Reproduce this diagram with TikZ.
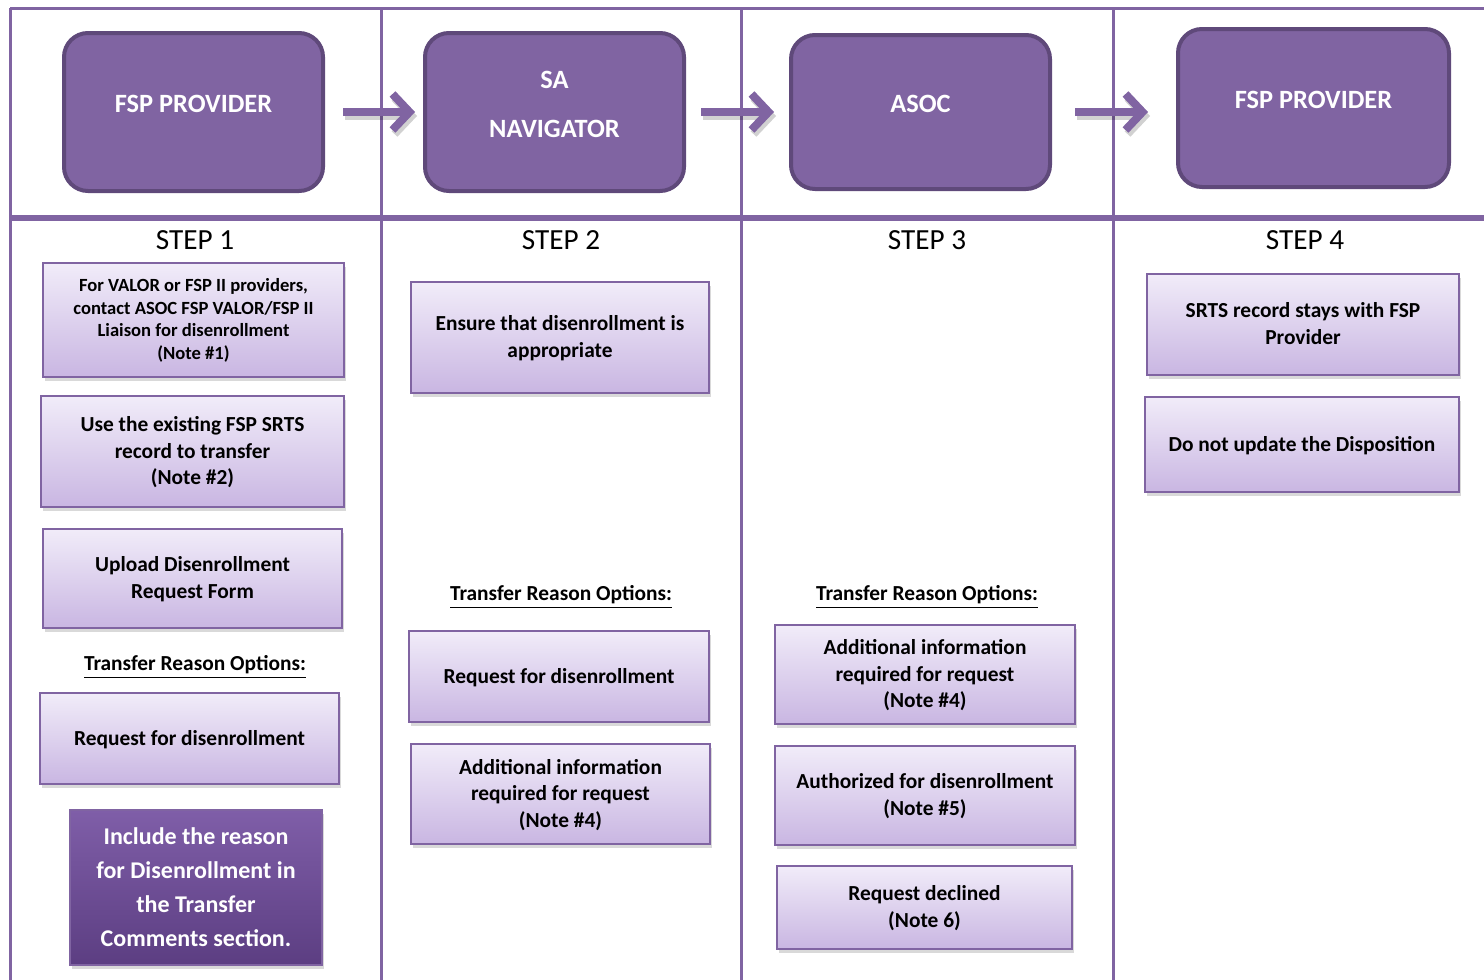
\documentclass[tikz,border=0pt]{standalone}
\usepackage{fontspec}
\setmainfont{Carlito}
\usetikzlibrary{arrows.meta,shadows}

\definecolor{lavender}{HTML}{8064A2}
\definecolor{plumedge}{HTML}{5F497A}
\definecolor{lilactop}{HTML}{F1ECF9}
\definecolor{lilacbot}{HTML}{C9B6E2}
\definecolor{grapetop}{HTML}{7F5EA8}
\definecolor{grapebot}{HTML}{5C3E82}

\tikzset{
  gridline/.style={draw=lavender, line width=1.5pt},
  hdrbox/.style={rounded corners=12pt, draw=plumedge, line width=2pt, fill=lavender,
    text=white, align=center, text depth=8pt,
    font=\bfseries\fontsize{13.2}{24.5}\selectfont},
  optbox/.style={draw=lavender, line width=0.8pt, top color=lilactop, bottom color=lilacbot,
    align=center, inner sep=0pt, text depth=1pt, font=\bfseries\fontsize{10.7}{13.25}\selectfont,
    drop shadow={shadow xshift=1.2pt, shadow yshift=-2pt, opacity=0.3}},
  darkbox/.style={draw=lavender, line width=0.8pt, top color=grapetop, bottom color=grapebot,
    text=white, align=center, inner sep=0pt, font=\bfseries\fontsize{12}{17}\selectfont,
    drop shadow={shadow xshift=1.2pt, shadow yshift=-2pt, opacity=0.3}},
  steplbl/.style={font=\fontsize{14.6}{16}\selectfont},
  optlbl/.style={font=\bfseries\fontsize{10.7}{12}\selectfont},
  flowarrow/.style={draw=lavender, line width=4pt,
    -{Straight Barb[length=8.5pt,width=18pt]}},
  arrowshade/.style={flowarrow, draw=black, opacity=0.18, transform canvas={xshift=1pt,yshift=-2pt}}
}

\begin{document}
\begin{tikzpicture}[x=0.5pt,y=-0.5pt]
  \useasboundingbox (0,0) rectangle (1484,980);

  % table lines
  \draw [gridline] (10,8) -- (1484,8);
  \draw [gridline] (10,8) -- (10,980);
  \draw [gridline] (381,8) -- (381,980);
  \draw [gridline] (741,8) -- (741,980);
  \draw [gridline] (1113,8) -- (1113,980);
  \draw [gridline, line width=3pt] (10,218) -- (1484,218);

  % header row
  \node [hdrbox, minimum width=129.5pt, minimum height=79pt] (hdr1) at (193.5,112) {FSP PROVIDER};
  \node [hdrbox, minimum width=129.5pt, minimum height=79pt] (hdr2) at (554.5,112) {SA\\NAVIGATOR};
  \node [hdrbox, minimum width=129.5pt, minimum height=77pt] (hdr3) at (920.5,112) {ASOC};
  \node [hdrbox, minimum width=135.5pt, minimum height=79pt] (hdr4) at (1313.5,108) {FSP PROVIDER};

  \coordinate (a4) at (hdr4.west |- hdr3);
  \draw [arrowshade, shorten <=9pt, shorten >=4pt] (hdr1) -- (hdr2);
  \draw [arrowshade, shorten <=7.5pt, shorten >=7.5pt] (hdr2) -- (hdr3);
  \draw [arrowshade, shorten <=11.5pt, shorten >=14pt] (hdr3) -- (a4);
  \draw [flowarrow, shorten <=9pt, shorten >=4pt] (hdr1) -- (hdr2);
  \draw [flowarrow, shorten <=7.5pt, shorten >=7.5pt] (hdr2) -- (hdr3);
  \draw [flowarrow, shorten <=11.5pt, shorten >=14pt] (hdr3) -- (a4);

  \node [steplbl] (st1) at (195,240) {STEP 1};
  \node [steplbl] (st2) at (561,240) {STEP 2};
  \node [steplbl] (st3) at (927,240) {STEP 3};
  \node [steplbl] (st4) at (1305,240) {STEP 4};

  % step 1
  \node [optbox, minimum width=150.5pt, minimum height=57pt, font=\bfseries\fontsize{9.3}{11.3}\selectfont]
    (c1a) at (193.5,320) {For VALOR or FSP II providers,\\contact ASOC FSP VALOR/FSP II\\Liaison for disenrollment\\(Note \#1)};
  \node [optbox, minimum width=151.5pt, minimum height=55.5pt] (c1b) at (192.5,451.5)
    {Use the existing FSP SRTS\\record to transfer\\(Note \#2)};
  \node [optbox, minimum width=149.5pt, minimum height=49.5pt] (c1c) at (192.5,578.5)
    {Upload Disenrollment\\Request Form};
  \node [optlbl] (opt1) at (195,667) {\underline{Transfer Reason Options:}};
  \node [optbox, minimum width=149.5pt, minimum height=45.5pt] (c1d) at (189.5,738.5)
    {Request for disenrollment};
  \node [darkbox, minimum width=126pt, minimum height=77.5pt] (c1e) at (196,887.5)
    {Include the reason\\for Disenrollment in\\the Transfer\\Comments section.};

  % step 2
  \node [optbox, minimum width=149pt, minimum height=55.5pt] (c2a) at (560,337.5)
    {Ensure that disenrollment is\\appropriate};
  \node [optlbl] (opt2) at (561,597) {\underline{Transfer Reason Options:}};
  \node [optbox, minimum width=150pt, minimum height=45.5pt] (c2b) at (559,676.5)
    {Request for disenrollment};
  \node [optbox, minimum width=149.5pt, minimum height=50pt] (c2c) at (560.5,794)
    {Additional information\\required for request\\(Note \#4)};

  % step 3
  \node [optlbl] (opt3) at (927,597) {\underline{Transfer Reason Options:}};
  \node [optbox, minimum width=150pt, minimum height=49.5pt] (c3a) at (925,674.5)
    {Additional information\\required for request\\(Note \#4)};
  \node [optbox, minimum width=150pt, minimum height=49.5pt] (c3b) at (925,795.5)
    {Authorized for disenrollment\\(Note \#5)};
  \node [optbox, minimum width=147.5pt, minimum height=41.5pt] (c3c) at (924.5,907.5)
    {Request declined\\(Note 6)};

  % step 4
  \node [optbox, minimum width=156pt, minimum height=50.5pt] (c4a) at (1303,324.5)
    {SRTS record stays with FSP\\Provider};
  \node [optbox, minimum width=157pt, minimum height=47.5pt] (c4b) at (1302,444.5)
    {Do not update the Disposition};
\end{tikzpicture}
\end{document}
